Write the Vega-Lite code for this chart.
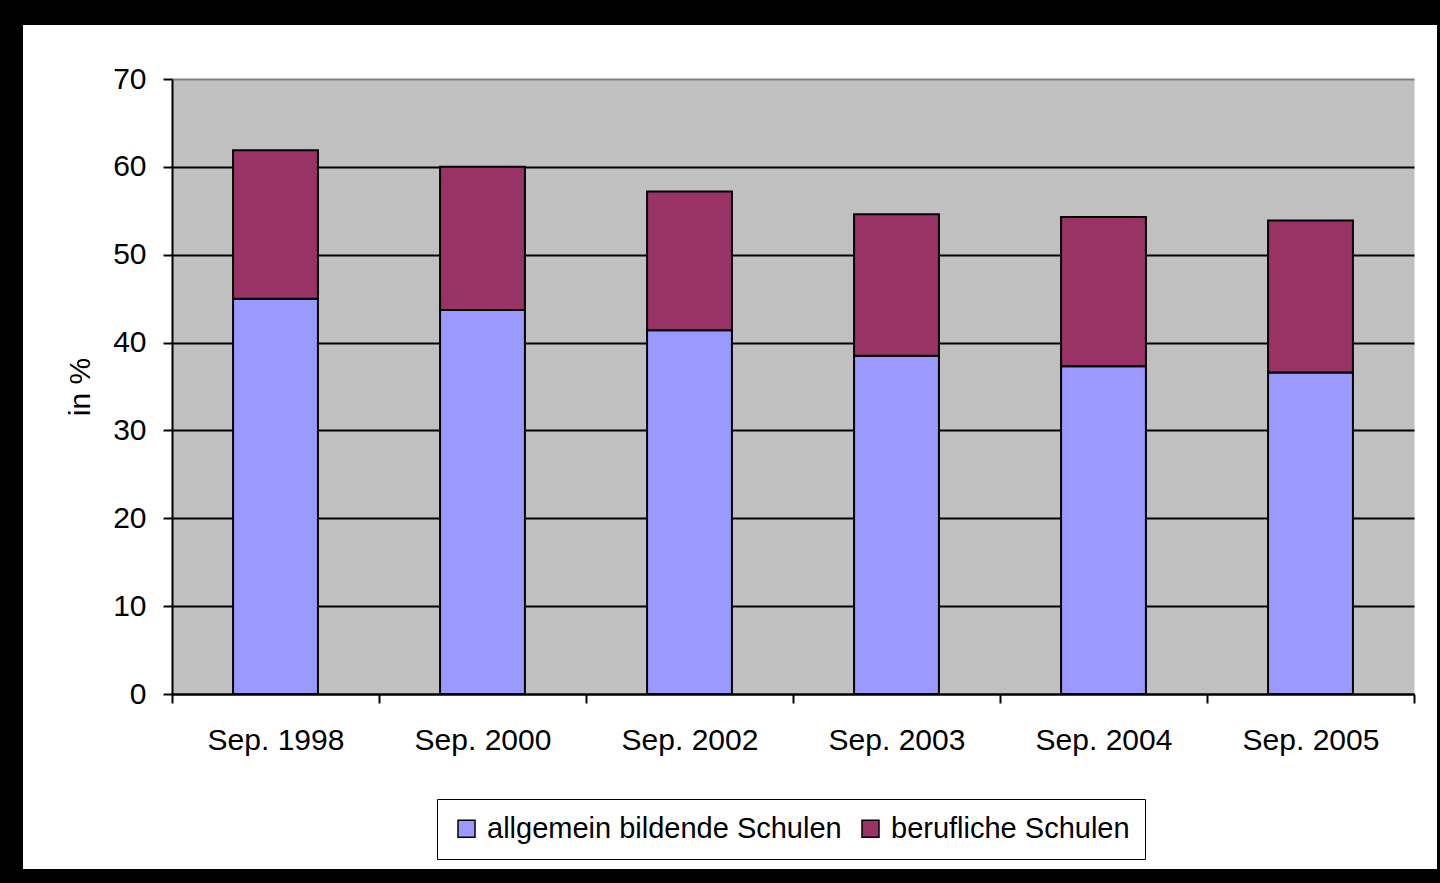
{
  "$schema": "https://vega.github.io/schema/vega-lite/v6.json",
  "width": 1414,
  "height": 844,
  "autosize": "none",
  "padding": {"left": 23, "top": 25, "right": 3, "bottom": 14},
  "background": "black",
  "config": {
    "font": "Liberation Sans",
    "view": {"fill": "white", "stroke": null}
  },
  "data": {
    "values": [
      {"jahr": "Sep. 1998", "schulart": "allgemein bildende Schulen", "anteil": 45.0},
      {"jahr": "Sep. 1998", "schulart": "berufliche Schulen", "anteil": 16.9},
      {"jahr": "Sep. 2000", "schulart": "allgemein bildende Schulen", "anteil": 43.7},
      {"jahr": "Sep. 2000", "schulart": "berufliche Schulen", "anteil": 16.3},
      {"jahr": "Sep. 2002", "schulart": "allgemein bildende Schulen", "anteil": 41.4},
      {"jahr": "Sep. 2002", "schulart": "berufliche Schulen", "anteil": 15.8},
      {"jahr": "Sep. 2003", "schulart": "allgemein bildende Schulen", "anteil": 38.5},
      {"jahr": "Sep. 2003", "schulart": "berufliche Schulen", "anteil": 16.1},
      {"jahr": "Sep. 2004", "schulart": "allgemein bildende Schulen", "anteil": 37.3},
      {"jahr": "Sep. 2004", "schulart": "berufliche Schulen", "anteil": 17.0},
      {"jahr": "Sep. 2005", "schulart": "allgemein bildende Schulen", "anteil": 36.6},
      {"jahr": "Sep. 2005", "schulart": "berufliche Schulen", "anteil": 17.3}
    ]
  },
  "resolve": {"axis": {"x": "independent", "y": "independent"}},
  "layer": [
    {
      "mark": {"type": "point", "opacity": 0},
      "encoding": {
        "x": {
          "field": "jahr",
          "type": "nominal",
          "sort": null,
          "scale": {"range": [149, 1391], "paddingInner": 0, "paddingOuter": 0},
          "axis": null
        },
        "y": {
          "field": "anteil",
          "type": "quantitative",
          "scale": {"domain": [0, 70], "range": [669, 54], "nice": false},
          "axis": {
            "orient": "left",
            "offset": -149,
            "values": [35],
            "grid": true,
            "gridColor": "#C0C0C0",
            "gridWidth": 615,
            "domain": false,
            "ticks": false,
            "labels": false,
            "title": null
          }
        }
      }
    },
    {
      "mark": {"type": "bar", "stroke": "black", "strokeWidth": 2, "width": {"band": 0.41}},
      "encoding": {
        "x": {
          "field": "jahr",
          "type": "nominal",
          "sort": null,
          "scale": {"range": [149, 1391], "paddingInner": 0, "paddingOuter": 0},
          "axis": {
            "orient": "bottom",
            "offset": -175,
            "title": null,
            "labelAngle": 0,
            "labelFontSize": 30,
            "labelColor": "black",
            "labelPadding": 22,
            "labelBaseline": "top",
            "tickBand": "extent",
            "tickSize": 9,
            "tickWidth": 2,
            "tickColor": "black",
            "domainColor": "black",
            "domainWidth": 2,
            "grid": false
          }
        },
        "y": {
          "field": "anteil",
          "type": "quantitative",
          "stack": "zero",
          "scale": {"domain": [0, 70], "range": [669, 54], "nice": false},
          "axis": {
            "orient": "left",
            "offset": -149,
            "values": [0, 10, 20, 30, 40, 50, 60, 70],
            "title": "in %",
            "titleFontSize": 30,
            "titleFontWeight": "normal",
            "titleColor": "black",
            "titlePadding": 17,
            "labelFontSize": 30,
            "labelColor": "black",
            "labelPadding": 17,
            "tickSize": 9,
            "tickWidth": 2,
            "tickColor": "black",
            "domainColor": "black",
            "domainWidth": 2,
            "grid": true,
            "gridWidth": 2,
            "gridColor": {"condition": {"test": "datum.value === 70", "value": "#808080"}, "value": "black"}
          }
        },
        "order": {"field": "schulart", "sort": "ascending"},
        "color": {
          "field": "schulart",
          "type": "nominal",
          "scale": {
            "domain": ["allgemein bildende Schulen", "berufliche Schulen"],
            "range": ["#9999FF", "#993366"]
          },
          "legend": {
            "orient": "none",
            "legendX": 414,
            "legendY": 774,
            "direction": "horizontal",
            "title": null,
            "symbolType": "square",
            "symbolSize": 289,
            "symbolStrokeColor": "black",
            "symbolStrokeWidth": 1.5,
            "symbolOpacity": 1,
            "labelFontSize": 29,
            "labelColor": "black",
            "labelLimit": 0,
            "labelOffset": 6,
            "columnPadding": 14,
            "padding": 15,
            "strokeColor": "black",
            "fillColor": "white"
          }
        }
      }
    }
  ]
}
